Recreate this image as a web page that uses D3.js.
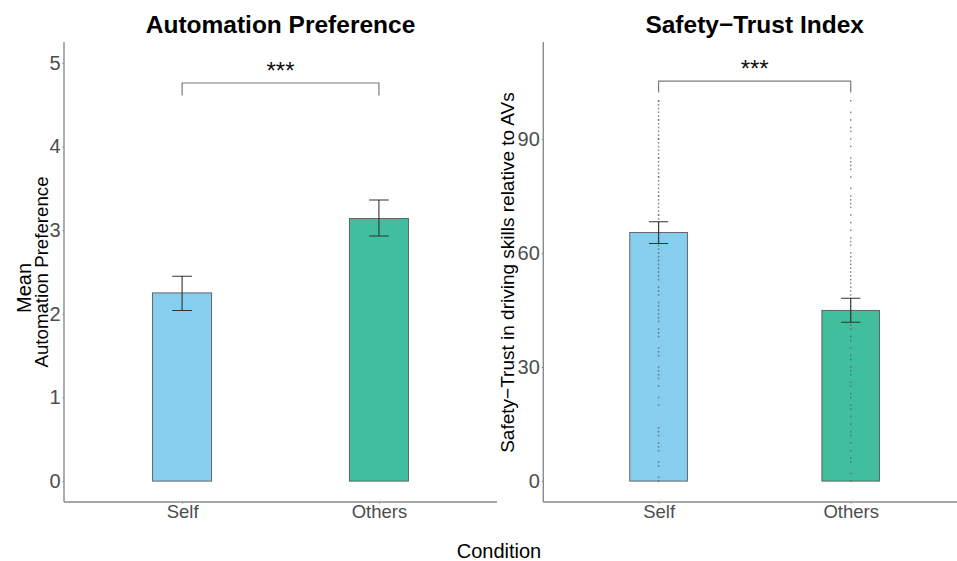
<!DOCTYPE html>
<html lang="en">
<meta charset="utf-8">
<head>
<title>Automation Preference / Safety-Trust Index</title>
<script src="https://d3js.org/d3.v7.min.js"></script>
<style>
  body { margin: 0; background: #fff; }
  svg { display: block; font-family: "Liberation Sans", Arial, sans-serif; }
  .axis path { stroke: #8a8a8a; stroke-width: 1.4; }
  .axis line { stroke: #8a8a8a; }
  .axis text { fill: #4d4d4d; }
</style>
</head>
<body>
<div id="chart"></div>
<script>
// data
var conditions = ["Self", "Others"];
var barColors = ["#87CDEE", "#40BE9E"];

var prefMean = [2.25, 3.14];
var prefLow = [2.04, 2.93];
var prefHigh = [2.45, 3.36];
var prefTicks = [0, 1, 2, 3, 4, 5];

var trustMean = [65.4, 44.9];
var trustLow = [62.5, 41.8];
var trustHigh = [68.2, 48.1];
var trustTicks = [0, 30, 60, 90];

// raw responses plotted over the trust bars
var trustSelfRaw = [100,100,99,98,97,96,95,95,94,93,92,91,90,90,89,88,87,86,85,85,84,83,82,81,80,80,79,78,77,76,75,75,74,73,72,71,70,70,69,68,67,66,65,64,63,62,61,60,59,58,57,56,55,54,53,51,50,49,47,46,45,44,43,42,40,39,38,35,34,33,30,29,28,27,25,22,20,14,13,12,10,9,8,5,4,1,0];
var trustOthersRaw = [100,97,95,93,92,90,88,85,84,83,82,80,77,75,74,73,72,70,68,66,64,63,62,60,59,58,57,56,55,54,53,52,51,50,49,48,47,46,45,44,43,42,41,40,38,37,35,33,32,30,29,28,26,25,23,22,20,19,17,15,13,12,10,8,6,5,2,0];

// significance brackets: [bracket top, bracket foot]
var prefSig = [4.76, 4.61];
var trustSig = [105.2, 102.2];
var sigLabel = "***";

var W = 957, H = 561;
var svg = d3.select("#chart").append("svg")
    .attr("width", W)
    .attr("height", H);

function panel(opt) {
    var x = d3.scalePoint()
        .domain(conditions)
        .range([opt.left, opt.right])
        .padding(0.6);
    var step = x.step();
    var y = d3.scaleLinear()
        .domain(opt.domain)
        .range([502, 42]);

    var g = svg.append("g");

    // axes
    var yAxis = g.append("g")
        .attr("class", "axis")
        .attr("transform", "translate(" + opt.left + ",0)")
        .call(d3.axisLeft(y).tickValues(opt.ticks).tickFormat(d3.format("d"))
            .tickSize(1.5).tickPadding(2).tickSizeOuter(0));
    yAxis.selectAll("text").style("font-size", "20px");
    yAxis.select("path.domain").attr("d", "M0," + y.range()[0] + "V" + y.range()[1]);

    var xAxis = g.append("g")
        .attr("class", "axis")
        .attr("transform", "translate(0,502)")
        .call(d3.axisBottom(x).tickSize(1.5).tickPadding(1.5).tickSizeOuter(0));
    xAxis.selectAll("text").style("font-size", "18.5px");
    xAxis.select("path.domain").attr("d", "M" + opt.left + ",0H" + opt.right);

    // bars
    g.selectAll("rect.bar")
        .data(conditions)
        .enter()
        .append("rect")
        .attr("class", "bar")
        .attr("x", d => x(d) - 0.15 * step)
        .attr("width", 0.3 * step)
        .attr("y", (d, i) => y(opt.mean[i]))
        .attr("height", (d, i) => y(0) - y(opt.mean[i]))
        .attr("fill", (d, i) => barColors[i])
        .attr("stroke", "#595959")
        .attr("stroke-width", 0.9);

    // raw points
    if (opt.raw) {
        opt.raw.forEach(function(vals, i) {
            g.selectAll(null)
                .data(vals)
                .enter()
                .append("rect")
                .attr("x", x(conditions[i]) - 0.7)
                .attr("y", d => y(d) - 0.8)
                .attr("width", 1.4)
                .attr("height", 1.6)
                .attr("fill", "#555")
                .attr("opacity", 0.7);
        });
    }

    // error bars
    conditions.forEach(function(c, i) {
        var cx = x(c), hw = 0.05 * step;
        var p = d3.path();
        p.moveTo(cx - hw, y(opt.high[i])); p.lineTo(cx + hw, y(opt.high[i]));
        p.moveTo(cx, y(opt.high[i])); p.lineTo(cx, y(opt.low[i]));
        p.moveTo(cx - hw, y(opt.low[i])); p.lineTo(cx + hw, y(opt.low[i]));
        g.append("path")
            .attr("d", p.toString())
            .attr("fill", "none")
            .attr("stroke", "#333")
            .attr("stroke-width", 1.1);
    });

    // significance bracket
    var x1 = x(conditions[0]), x2 = x(conditions[1]);
    g.append("path")
        .attr("d", "M" + x1 + "," + y(opt.sig[1]) + "V" + y(opt.sig[0]) + "H" + x2 + "V" + y(opt.sig[1]))
        .attr("fill", "none")
        .attr("stroke", "#7a7a7a")
        .attr("stroke-width", 1.2);
    g.append("text")
        .attr("x", (x1 + x2) / 2)
        .attr("y", y(opt.sig[0]) - 4)
        .attr("text-anchor", "middle")
        .style("font-size", "24px")
        .attr("fill", "#111")
        .text(sigLabel);

    // title
    g.append("text")
        .attr("x", (opt.left + opt.right) / 2)
        .attr("y", 33)
        .attr("text-anchor", "middle")
        .style("font-size", "24.5px")
        .style("font-weight", "bold")
        .attr("fill", "#000")
        .text(opt.title);

    return g;
}

var left = panel({
    left: 64, right: 497,
    domain: [-0.25, 5.25], ticks: prefTicks,
    mean: prefMean, low: prefLow, high: prefHigh,
    sig: prefSig, title: "Automation Preference"
});
left.append("text")
    .attr("transform", "translate(31,288) rotate(-90)")
    .attr("text-anchor", "middle")
    .style("font-size", "20px")
    .text("Mean");
left.append("text")
    .attr("transform", "translate(47.5,272) rotate(-90)")
    .attr("text-anchor", "middle")
    .style("font-size", "18.7px")
    .text("Automation Preference");

var right = panel({
    left: 543.3, right: 966,
    domain: [-5.5, 115.5], ticks: trustTicks,
    mean: trustMean, low: trustLow, high: trustHigh,
    raw: [trustSelfRaw, trustOthersRaw],
    sig: trustSig, title: "Safety\u2212Trust Index"
});
right.append("text")
    .attr("transform", "translate(514,272.5) rotate(-90)")
    .attr("text-anchor", "middle")
    .style("font-size", "19px")
    .text("Safety\u2212Trust in driving skills relative to AVs");

svg.append("text")
    .attr("x", 499)
    .attr("y", 558)
    .attr("text-anchor", "middle")
    .style("font-size", "20px")
    .text("Condition");
</script>
</body>
</html>
